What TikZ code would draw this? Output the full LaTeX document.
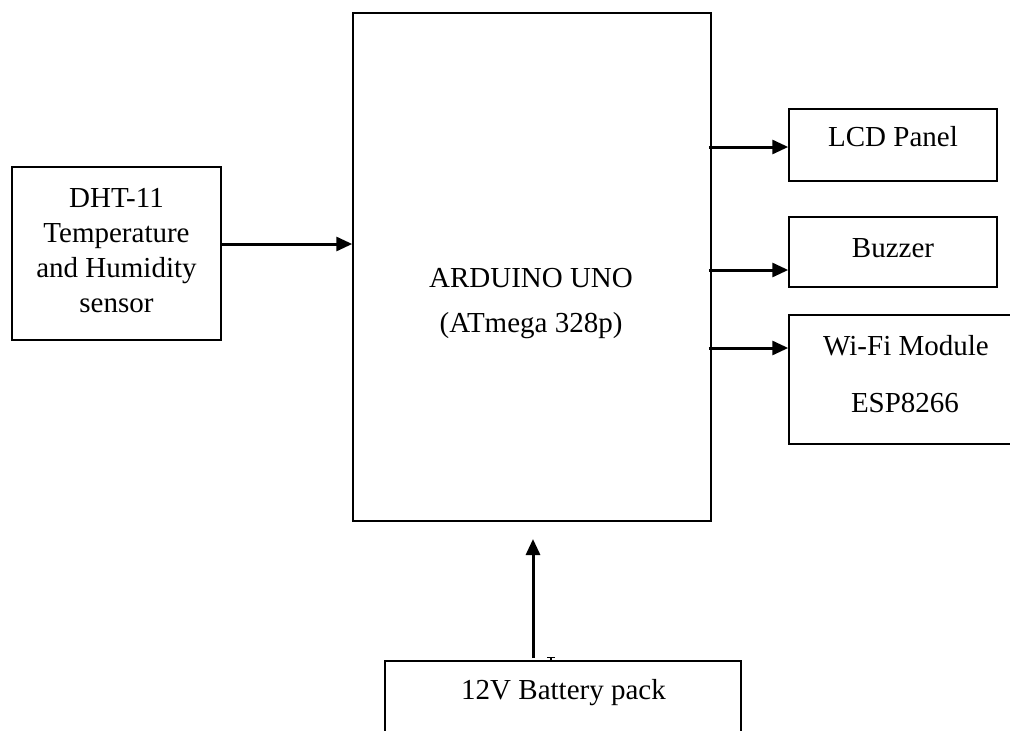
\documentclass[tikz,border=0pt]{standalone}
\usepackage{fontspec}
\setmainfont{Liberation Serif}
\usetikzlibrary{arrows.meta}
\begin{document}
\begin{tikzpicture}[x=1pt,y=-1pt,
  blk/.style={draw=black,line width=1.5pt,minimum width=#1,inner sep=0pt},
  txt/.style={anchor=base,inner sep=0pt,font=\fontsize{29}{35}\selectfont},
  arr/.style={line width=3pt,-{Triangle[length=16pt,width=14pt]}}]
\useasboundingbox (0,0) rectangle (1010,731);
\clip (0,0) rectangle (1010,731);
% boxes
\node[blk=358pt,minimum height=508pt] (main) at (532,267) {};
\node[blk=209pt,minimum height=173pt] (dht) at (116.5,253.5) {};
\node[blk=208pt,minimum height=72pt] (lcd) at (893,145) {};
\node[blk=208pt,minimum height=70pt] (buz) at (893,252) {};
\node[blk=232pt,minimum height=129pt] (wifi) at (905,379.5) {};
\node[blk=356pt,minimum height=120pt] (bat) at (563,721) {};
% texts
\node[txt] (t1) at (116.5,207) {DHT-11};
\node[txt] (t2) at (116.5,242.5) {Temperature};
\node[txt] (t3) at (116.5,277.5) {and Humidity};
\node[txt] (t4) at (116.5,312.5) {sensor};
\node[txt] (t5) at (531,287) {ARDUINO UNO};
\node[txt] (t6) at (531,332) {(ATmega 328p)};
\node[txt] (t7) at (893,146) {LCD Panel};
\node[txt] (t8) at (893,257) {Buzzer};
\node[txt] (t9) at (906,355) {Wi-Fi Module};
\node[txt] (t10) at (905,412) {ESP8266};
\node[txt] (t11) at (563.5,699) {12V Battery pack};
% connectors
\draw[arr] (dht.east |- 0,244) -- (main.west |- 0,244);
\draw[arr] ([xshift=-3pt]main.east |- 0,147) -- (lcd.west |- 0,147);
\draw[arr] ([xshift=-3pt]main.east |- 0,270) -- (buz.west |- 0,270);
\draw[arr] ([xshift=-3pt]main.east |- 0,348) -- (wifi.west |- 0,348);
\coordinate (bs) at (533,658);
\coordinate (bt) at (533,539);
\draw[arr] (bs) -- (bt);
\draw[line width=1.2pt] (547,657.5) -- (555,657.5) (551,657.5) -- (551,661);
\end{tikzpicture}
\end{document}
